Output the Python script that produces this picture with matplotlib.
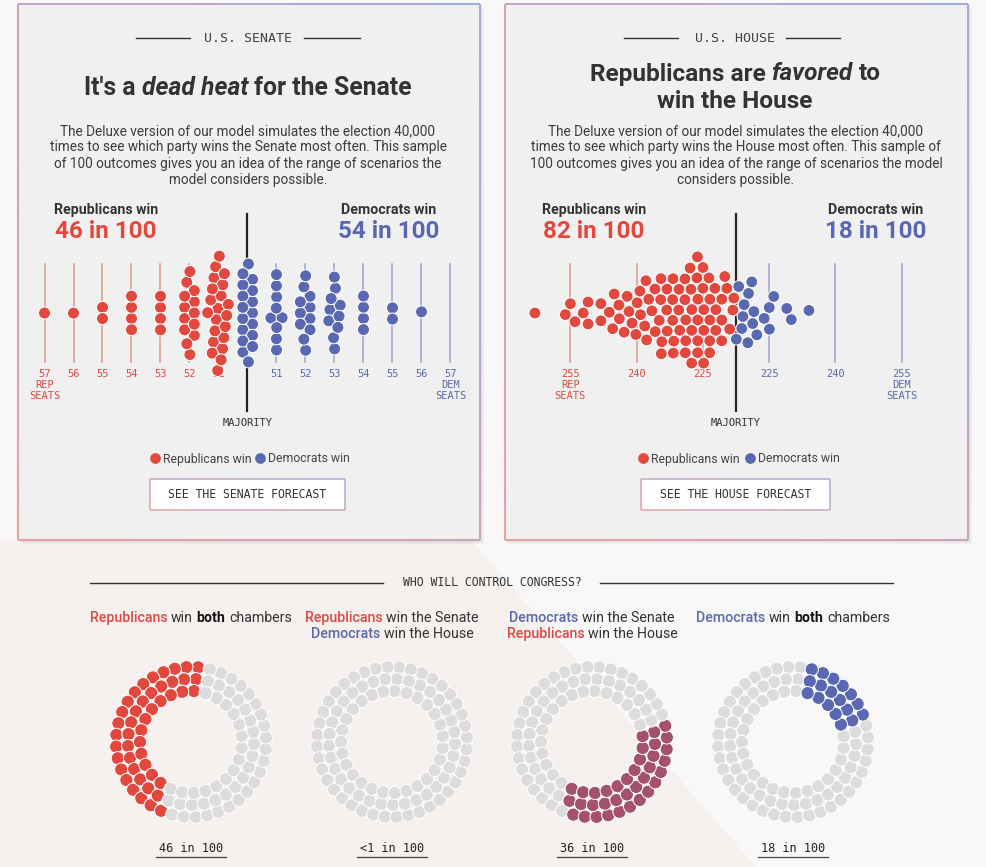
import numpy as np
import matplotlib.pyplot as plt
from matplotlib.patches import Rectangle, Polygon
from matplotlib.collections import LineCollection
from matplotlib.colors import to_rgb

W, H = 986, 867

# ---- data ----
senate_labels = ["57", "56", "55", "54", "53", "52", "51", "", "51", "52", "53", "54", "55", "56", "57"]
senate_counts = [1, 1, 2, 4, 4, 13, 21, 17, 9, 11, 10, 4, 2, 1, 0]
senate_win = [46, 54]

house_rep_seats = [263, 256, 255, 254, 252, 251, 251, 248, 248, 246, 245, 245, 244, 244,
                   243, 242, 241, 241, 240, 240, 239, 239, 238, 238, 238, 237, 237,
                   235, 235, 235, 235, 234, 234, 233, 233, 233, 232, 232, 232, 232,
                   232, 232, 231, 230, 230, 229, 229, 229, 228, 228, 228, 228, 227, 227,
                   227, 226, 226, 226, 226, 226, 226, 225, 225, 225, 225, 225, 224, 224,
                   224, 224, 223, 223, 223, 222, 222, 221, 221, 221, 220, 219, 219, 218]
house_dem_seats = [218, 218, 219, 219, 220, 220, 220, 221, 221, 221, 222, 224, 225, 225,
                   226, 229, 230, 234]
house_win = [82, 18]
house_ticks = [255, 240, 225]

congress_counts = [46, 0, 36, 18]
congress_labels = ["46 in 100", "<1 in 100", "36 in 100", "18 in 100"]

RED = "#e3483f"
BLUE = "#5a68b2"
PURPLE = "#a4506f"
GREY = "#dcdcdc"
DARK = "#333333"
RED_LINE = "#e79c97"
BLUE_LINE = "#a3aad4"
SANS = "Roboto"
MONO = "DejaVu Sans Mono"

fig = plt.figure(figsize=(W / 100, H / 100), dpi=100)
fig.patch.set_facecolor("#f8f8f8")
page = fig.add_axes([0, 0, 1, 1])
page.set_xlim(0, W)
page.set_ylim(H, 0)
page.axis("off")
renderer = fig.canvas.get_renderer()


def px_axes(x0, y0, x1, y1):
    ax = fig.add_axes([x0 / W, 1 - y1 / H, (x1 - x0) / W, (y1 - y0) / H])
    ax.axis("off")
    return ax


def grad_border(x0, y0, x1, y1, lw=1.5, c0="#eaa1a4", c1="#a6abd9", zorder=3):
    c0, c1 = np.array(to_rgb(c0)), np.array(to_rgb(c1))
    pts = []
    for (ax_, ay_), (bx, by) in [((x0, y0), (x1, y0)), ((x1, y0), (x1, y1)),
                                 ((x1, y1), (x0, y1)), ((x0, y1), (x0, y0))]:
        n = 60
        for k in range(n):
            t0, t1 = k / n, (k + 1) / n
            pts.append([(ax_ + (bx - ax_) * t0, ay_ + (by - ay_) * t0),
                        (ax_ + (bx - ax_) * t1, ay_ + (by - ay_) * t1)])
    cols = []
    for (p, q) in pts:
        mx, my = (p[0] + q[0]) / 2, (p[1] + q[1]) / 2
        t = ((mx - x0) / (x1 - x0) + (y1 - my) / (y1 - y0)) / 2
        cols.append(c0 + (c1 - c0) * t)
    page.add_collection(LineCollection(pts, colors=cols, linewidths=lw, zorder=zorder))


def text_w(s, **kw):
    t = page.text(0, 0, s, **kw)
    w = t.get_window_extent(renderer=renderer).width
    t.remove()
    return w


def rich(xc, y, parts, size, family=SANS):
    # parts: (text, color, weight, style); joined with single spaces
    gap = text_w("x x", fontsize=size, family=family) - text_w("xx", fontsize=size, family=family)
    items = []
    for s, c, wt, st in parts:
        t = page.text(0, y, s, color=c, fontsize=size, family=family, fontweight=wt,
                      fontstyle=st, va="center", ha="left")
        items.append((t, t.get_window_extent(renderer=renderer).width))
    total = sum(w for _, w in items) + gap * (len(items) - 1)
    x = xc - total / 2
    for t, w in items:
        t.set_x(x)
        x += w + gap


def swarm(x0, rad, sx, sy, ticks=300):
    n = len(x0)
    i = np.arange(n)
    ang = i * np.pi * (3 - np.sqrt(5))
    rr = 1.5 * np.sqrt(0.5 + i)
    x = x0 + rr * np.cos(ang)
    y = rr * np.sin(ang)
    vx = np.zeros(n)
    vy = np.zeros(n)
    alpha = 1.0
    decay = 1 - 0.001 ** (1 / ticks)
    for _ in range(ticks):
        alpha -= alpha * decay
        vx += (x0 - x) * sx * alpha
        vy += (0 - y) * sy * alpha
        for _ in range(2):
            px, py = x + vx, y + vy
            dx = px[:, None] - px[None, :]
            dy = py[:, None] - py[None, :]
            d = np.hypot(dx, dy)
            np.fill_diagonal(d, np.inf)
            l = np.where(d < 2 * rad, (2 * rad - d) / np.maximum(d, 1e-6), 0.0)
            vx += (dx * l).sum(1) * 0.5
            vy += (dy * l).sum(1) * 0.5
        vx *= 0.6
        vy *= 0.6
        x += vx
        y += vy
    return x, y


# ---- page background ----
page.add_patch(Polygon([(0, 540), (0, H), (756, H), (471, 540)], closed=True,
                       facecolor="#f6f0ef", edgecolor="none", zorder=0))

# ---- panels ----
for (x0, x1) in [(18, 480), (505, 968)]:
    for off, a in [(4, 0.04), (2, 0.06)]:
        page.add_patch(Rectangle((x0 + off, 4 + off), x1 - x0, 536, facecolor="k",
                                 alpha=a, edgecolor="none", zorder=1))
    page.add_patch(Rectangle((x0, 4), x1 - x0, 536, facecolor="#f0f0f0",
                             edgecolor="none", zorder=2))
    grad_border(x0, 4, x1, 540)

# headers
for xc, s, l0, l1, r0, r1 in [(248, "U.S. SENATE", 136, 190, 304, 360),
                              (735, "U.S. HOUSE", 624, 678, 786, 840)]:
    page.text(xc, 38, s, family=MONO, fontsize=9.5, color="#444", ha="center",
              va="center", zorder=5)
    page.plot([l0, l1], [38, 38], color=DARK, lw=1, zorder=5)
    page.plot([r0, r1], [38, 38], color=DARK, lw=1, zorder=5)

rich(248, 88, [("It's a", DARK, "bold", "normal"), ("dead heat", DARK, "bold", "italic"),
               ("for the Senate", DARK, "bold", "normal")], 17.8)
rich(735, 74, [("Republicans are", DARK, "bold", "normal"), ("favored", DARK, "bold", "italic"),
               ("to", DARK, "bold", "normal")], 17.6)
rich(735, 102, [("win the House", DARK, "bold", "normal")], 17.6)

senate_body = ["The Deluxe version of our model simulates the election 40,000",
               "times to see which party wins the Senate most often. This sample",
               "of 100 outcomes gives you an idea of the range of scenarios the",
               "model considers possible."]
house_body = ["The Deluxe version of our model simulates the election 40,000",
              "times to see which party wins the House most often. This sample of",
              "100 outcomes gives you an idea of the range of scenarios the model",
              "considers possible."]
for xc, lines in [(248, senate_body), (736, house_body)]:
    for k, ln in enumerate(lines):
        page.text(xc, 131 + 16.4 * k, ln, family=SANS, fontsize=9.85, color="#3c3c3c",
                  ha="center", va="center", zorder=5)

# win counts
for (rx, dx, wins) in [(106, 389, senate_win), (594, 876, house_win)]:
    page.text(rx, 210, "Republicans win", family=SANS, fontsize=10.2, fontweight="semibold",
              color=DARK, ha="center", va="center", zorder=5)
    page.text(rx, 231, f"{wins[0]} in 100", family=SANS, fontsize=17.5, fontweight="bold",
              color=RED, ha="center", va="center", zorder=5)
    page.text(dx, 210, "Democrats win", family=SANS, fontsize=10.2, fontweight="semibold",
              color=DARK, ha="center", va="center", zorder=5)
    page.text(dx, 231, f"{wins[1]} in 100", family=SANS, fontsize=17.5, fontweight="bold",
              color=BLUE, ha="center", va="center", zorder=5)

DOT_S = (12 * 0.72) ** 2

# ---- senate swarm ----
SEN_CX, SEN_STEP, MID_Y = 247.5, 29.0, 313
sen = px_axes(20, 200, 476, 440)
sen.set_xlim((20 - SEN_CX) / SEN_STEP, (476 - SEN_CX) / SEN_STEP)
sen.set_ylim(440 - MID_Y, 200 - MID_Y)
cols = np.arange(len(senate_counts)) - 7
for c, lab in zip(cols, senate_labels):
    col = RED if c < 0 else BLUE
    lcol = RED_LINE if c < 0 else BLUE_LINE
    if c != 0:
        sen.plot([c, c], [-49, 49], color=lcol, lw=1.2, zorder=1)
        sen.text(c, 61, lab, family=MONO, fontsize=7.5, color=col, ha="center", va="center")
sen.text(-7, 72, "REP", family=MONO, fontsize=7.5, color=RED, ha="center", va="center")
sen.text(-7, 83, "SEATS", family=MONO, fontsize=7.5, color=RED, ha="center", va="center")
sen.text(7, 72, "DEM", family=MONO, fontsize=7.5, color=BLUE, ha="center", va="center")
sen.text(7, 83, "SEATS", family=MONO, fontsize=7.5, color=BLUE, ha="center", va="center")
sen.plot([0, 0], [-99, 98], color="#222", lw=1.6, zorder=2)
sen.text(0, 110, "MAJORITY", family=MONO, fontsize=7.5, color=DARK, ha="center", va="center")

sen_col = np.repeat(cols, senate_counts).astype(float)
sx_, sy_ = swarm(sen_col * SEN_STEP, 5.6, 1.0, 0.036)
sen_colors = [RED if c < 0 else BLUE for c in sen_col]
sen.scatter(sx_ / SEN_STEP, sy_, s=DOT_S, c=sen_colors, edgecolors="white",
            linewidths=0.7, zorder=3)

# ---- house swarm ----
HOU_CX, HOU_STEP, MAJ = 736, 4.42, 217.5
hou = px_axes(510, 200, 966, 440)
hou.set_xlim((510 - HOU_CX) / HOU_STEP, (966 - HOU_CX) / HOU_STEP)
hou.set_ylim(440 - MID_Y, 200 - MID_Y)
for t in house_ticks:
    m = t - MAJ
    hou.plot([-m, -m], [-49, 49], color=RED_LINE, lw=1.2, zorder=1)
    hou.plot([m, m], [-49, 49], color=BLUE_LINE, lw=1.2, zorder=1)
    hou.text(-m, 61, str(t), family=MONO, fontsize=7.5, color=RED, ha="center", va="center")
    hou.text(m, 61, str(t), family=MONO, fontsize=7.5, color=BLUE, ha="center", va="center")
m = house_ticks[0] - MAJ
hou.text(-m, 72, "REP", family=MONO, fontsize=7.5, color=RED, ha="center", va="center")
hou.text(-m, 83, "SEATS", family=MONO, fontsize=7.5, color=RED, ha="center", va="center")
hou.text(m, 72, "DEM", family=MONO, fontsize=7.5, color=BLUE, ha="center", va="center")
hou.text(m, 83, "SEATS", family=MONO, fontsize=7.5, color=BLUE, ha="center", va="center")
hou.plot([0, 0], [-99, 98], color="#222", lw=1.6, zorder=2)
hou.text(0, 110, "MAJORITY", family=MONO, fontsize=7.5, color=DARK, ha="center", va="center")

hm = np.array([-(s - MAJ) for s in house_rep_seats] + [s - MAJ for s in house_dem_seats])
hx_, hy_ = swarm(hm * HOU_STEP, 6.0, 0.8, 0.025)
hou_colors = [RED] * len(house_rep_seats) + [BLUE] * len(house_dem_seats)
hou.scatter(hx_ / HOU_STEP, hy_, s=(11.8 * 0.72) ** 2, c=hou_colors, edgecolors="white",
            linewidths=0.7, zorder=3)

# ---- legends and buttons ----
for rx, bx, b0, b1, label in [(155, 260, 150, 345, "SEE THE SENATE FORECAST"),
                              (643, 750, 641, 830, "SEE THE HOUSE FORECAST")]:
    page.scatter([rx], [458], s=45, color=RED, zorder=5)
    page.text(rx + 8, 459, "Republicans win", family=SANS, fontsize=8.8, color="#444",
              va="center", zorder=5)
    page.scatter([bx], [458], s=45, color=BLUE, zorder=5)
    page.text(bx + 8, 459, "Democrats win", family=SANS, fontsize=8.8, color="#444",
              va="center", zorder=5)
    page.add_patch(Rectangle((b0, 479), b1 - b0, 31, facecolor="white", edgecolor="none",
                             zorder=4))
    grad_border(b0, 479, b1, 510, lw=1.1, zorder=5)
    page.text((b0 + b1) / 2, 494.5, label, family=MONO, fontsize=8.3, color=DARK,
              ha="center", va="center", zorder=6)

# ---- who will control congress ----
page.plot([90, 383], [583, 583], color=DARK, lw=1)
page.plot([600, 893], [583, 583], color=DARK, lw=1)
page.text(492, 582, "WHO WILL CONTROL CONGRESS?", family=MONO, fontsize=8.3, color=DARK,
          ha="center", va="center")

ring_cx = [191, 392, 592, 793]
R = (RED, "medium", "normal")
B = (BLUE, "medium", "normal")
N = (DARK, "normal", "normal")
BB = ("#111", "bold", "normal")
heads = [
    [[("Republicans",) + R, ("win",) + N, ("both",) + BB, ("chambers",) + N]],
    [[("Republicans",) + R, ("win the Senate",) + N], [("Democrats",) + B, ("win the House",) + N]],
    [[("Democrats",) + B, ("win the Senate",) + N], [("Republicans",) + R, ("win the House",) + N]],
    [[("Democrats",) + B, ("win",) + N, ("both",) + BB, ("chambers",) + N]],
]
for xc, lines in zip(ring_cx, heads):
    for k, parts in enumerate(lines):
        rich(xc, 618 + 16 * k, parts, 10.2)

# ring dots: three rings, dots ordered counter-clockwise from just right of the top
rings = [(75, 40), (63, 33), (51, 27)]
rr_, th_, frac_ = [], [], []
for r, n in rings:
    for k in range(n):
        f = (k + 0.5) / n
        rr_.append(r)
        frac_.append(f)
        th_.append(np.deg2rad(80 + 360 * f))
rr_, th_, frac_ = np.array(rr_), np.array(th_), np.array(frac_)
order = np.argsort(frac_, kind="stable")
cat = np.empty(len(rr_), dtype=int)
cat[order] = np.repeat(np.arange(4), congress_counts)
ring_colors = [RED, PURPLE, PURPLE, BLUE]
rx_, ry_ = rr_ * np.cos(th_), rr_ * np.sin(th_)
for j, (xc, lab) in enumerate(zip(ring_cx, congress_labels)):
    ax = px_axes(xc - 90, 742 - 90, xc + 90, 742 + 90)
    ax.set_xlim(-90, 90)
    ax.set_ylim(-90, 90)
    cc = [ring_colors[j] if c == j else GREY for c in cat]
    ax.scatter(rx_, ry_, s=(13.2 * 0.72) ** 2, c=cc, edgecolors="white", linewidths=0.7)
    t = page.text(xc, 848, lab, family=MONO, fontsize=8.6, color="#222", ha="center",
                  va="center")
    w = t.get_window_extent(renderer=renderer).width
    page.plot([xc - w / 2 - 3, xc + w / 2 + 3], [856.5, 856.5], color="#444", lw=0.9)

fig.savefig("out.png", dpi=100, facecolor=fig.get_facecolor())
